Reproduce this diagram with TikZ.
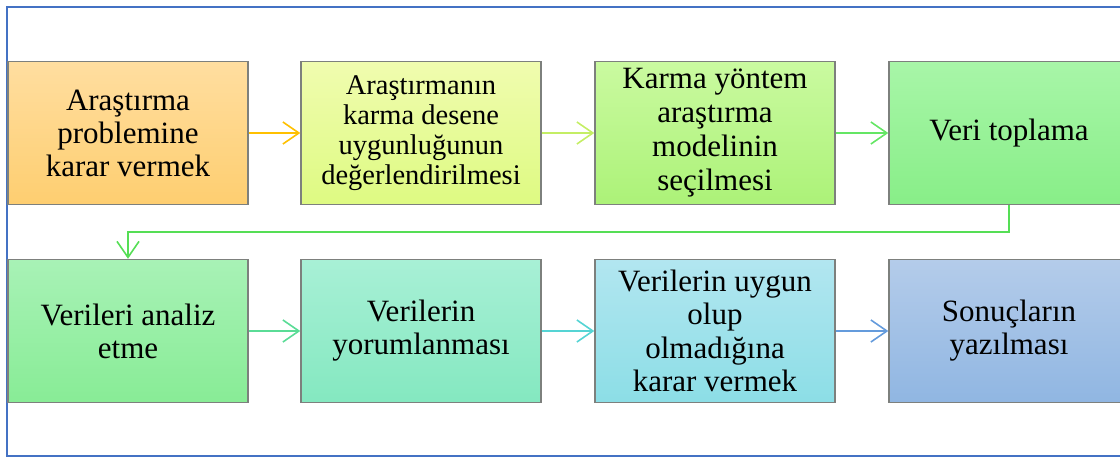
\documentclass[tikz,border=0pt]{standalone}
\usepackage{fontspec}
\setmainfont{Liberation Serif}
\usetikzlibrary{arrows.meta}
\definecolor{frameblue}{RGB}{68,114,196}
\definecolor{boxgray}{RGB}{125,128,125}
\definecolor{aT}{RGB}{255,222,160}\definecolor{aB}{RGB}{254,206,112}
\definecolor{bT}{RGB}{240,252,175}\definecolor{bB}{RGB}{222,250,130}
\definecolor{cT}{RGB}{202,250,160}\definecolor{cB}{RGB}{172,242,120}
\definecolor{dT}{RGB}{168,246,168}\definecolor{dB}{RGB}{136,238,136}
\definecolor{eT}{RGB}{168,242,182}\definecolor{eB}{RGB}{136,236,150}
\definecolor{fT}{RGB}{168,240,214}\definecolor{fB}{RGB}{132,232,192}
\definecolor{gT}{RGB}{178,230,240}\definecolor{gB}{RGB}{140,222,230}
\definecolor{hT}{RGB}{180,204,234}\definecolor{hB}{RGB}{144,182,226}
\definecolor{arA}{RGB}{255,192,0}
\definecolor{arB}{RGB}{196,238,100}
\definecolor{arC}{RGB}{100,230,100}
\definecolor{arD}{RGB}{85,222,85}
\definecolor{arE}{RGB}{90,220,150}
\definecolor{arF}{RGB}{85,212,212}
\definecolor{arG}{RGB}{100,155,220}
\tikzset{
  stepbox/.style={draw=boxgray, line width=1.4pt, minimum width=240pt, minimum height=143pt,
    inner sep=0pt, align=center, font=\fontsize{31}{33}\selectfont},
  flow/.style={line width=1.6pt, -{Straight Barb[length=16pt,width=22pt,line width=1.6pt]}}
}
\begin{document}
\begin{tikzpicture}[x=1pt,y=-1pt]
\useasboundingbox (0,0) rectangle (1120,458);
\draw[frameblue, line width=2pt] (1140,7) -- (7,7) -- (7,456) -- (1140,456);
% row 1
\node[stepbox, top color=aT, bottom color=aB] (a1) at (128,133) {Araştırma\\problemine\\karar vermek};
\node[stepbox, top color=bT, bottom color=bB, font=\fontsize{28.5}{30}\selectfont] (a2) at (421,133) {Araştırmanın\\karma desene\\uygunluğunun\\değerlendirilmesi};
\node[stepbox, top color=cT, bottom color=cB, font=\fontsize{31}{34}\selectfont] (a3) at (715,133) {Karma yöntem\\araştırma\\modelinin\\seçilmesi};
\node[stepbox, top color=dT, bottom color=dB] (a4) at (1009,133) {Veri toplama};
% row 2
\node[stepbox, top color=eT, bottom color=eB] (b1) at (128,331) {Verileri analiz\\etme};
\node[stepbox, top color=fT, bottom color=fB] (b2) at (421,331) {Verilerin\\yorumlanması};
\node[stepbox, top color=gT, bottom color=gB, font=\fontsize{31}{33.5}\selectfont] (b3) at (715,331) {Verilerin uygun\\olup\\olmadığına\\karar vermek};
\node[stepbox, top color=hT, bottom color=hB] (b4) at (1009,331) {Sonuçların\\yazılması};
% connectors
\draw[flow, arA] (a1) -- (a2);
\draw[flow, arB] (a2) -- (a3);
\draw[flow, arC] (a3) -- (a4);
\draw[flow, arD] (a4.south) -- ++(0,27) -| (b1.north);
\draw[flow, arE] (b1) -- (b2);
\draw[flow, arF] (b2) -- (b3);
\draw[flow, arG] (b3) -- (b4);
\end{tikzpicture}
\end{document}
